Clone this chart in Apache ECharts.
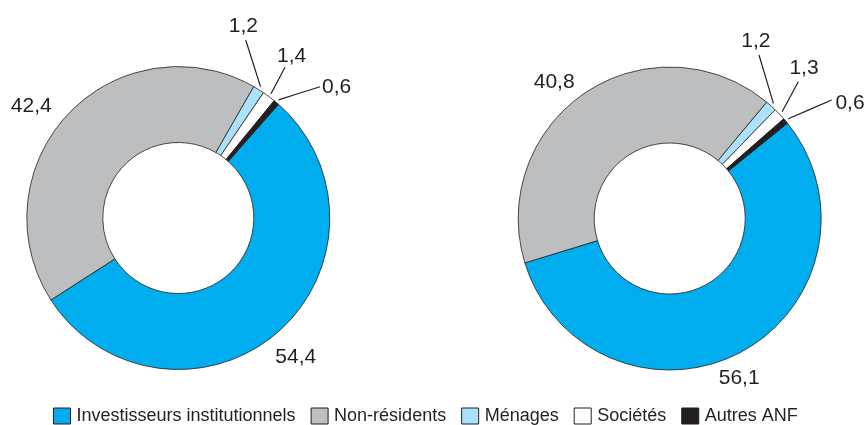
<!DOCTYPE html>
<html><head><meta charset="utf-8">
<script src="https://cdn.jsdelivr.net/npm/echarts@6/dist/echarts.min.js"></script>
<style>html,body{margin:0;padding:0;background:#fff}#chart{width:866px;height:425px}</style>
</head><body><div id="chart"></div>
<script>
// Categories and shares (%) for the two donuts
const categories = ['Investisseurs institutionnels', 'Non-résidents', 'Ménages', 'Sociétés', 'Autres ANF'];
const valuesLeft = [54.4, 42.4, 1.2, 1.4, 0.6];
const valuesRight = [56.1, 40.8, 1.2, 1.3, 0.6];
const colors = ['#00adee', '#bcbec0', '#abe1fa', '#ffffff', '#231f20'];

// Drawing parameters
const INK = '#231f20';
const FONT = '"Liberation Sans", Arial, Helvetica, sans-serif';
const R_IN = 75.5, R_OUT = 151.5;
const pies = [
  { values: valuesLeft, center: [178.3, 218], startAngle: 48.6,
    labelAt: [[117.5, 139], [-147, -112.2], [65, -192], [113.4, -162], [158.4, -130.5]],
    lineTo: [null, null, [67.4, -178], [106.7, -150.7], [141.7, -131.3]] },
  { values: valuesRight, center: [669.7, 218.5], startAngle: 39,
    labelAt: [[69.5, 159.3], [-115.5, -136], [86.1, -177.7], [134.3, -150.2], [180.3, -115]],
    lineTo: [null, null, [89.3, -163.5], [128.6, -136.8], [162, -118.5]] }
];

function midAngle(vals, i, start) {
  const total = vals.reduce((a, b) => a + b, 0);
  let before = 0;
  for (let k = 0; k < i; k++) before += vals[k];
  return (start - (before + vals[i] / 2) / total * 360) * Math.PI / 180;
}

function fmt(v) { return v.toFixed(1).replace('.', ','); }

function buildSeries(p) {
  return {
    type: 'pie',
    radius: [R_IN, R_OUT],
    center: p.center,
    startAngle: p.startAngle,
    clockwise: true,
    avoidLabelOverlap: false,
    silent: true,
    itemStyle: { borderColor: INK, borderWidth: 0.8 },
    label: {
      show: true, position: 'outside', color: INK, fontSize: 21, fontFamily: FONT,
      formatter: (prm) => fmt(prm.value)
    },
    labelLine: { show: true, lineStyle: { color: INK, width: 1.2 } },
    labelLayout: function (prm) {
      const i = prm.dataIndex;
      const [cx, cy] = p.center;
      const [lx, ly] = p.labelAt[i];
      const res = { x: cx + lx, y: cy + ly, align: 'center', verticalAlign: 'middle' };
      if (p.lineTo[i]) {
        const a = midAngle(p.values, i, p.startAngle);
        const r = R_OUT + 3.5;
        const s = [cx + r * Math.cos(a), cy - r * Math.sin(a)];
        const e = [cx + p.lineTo[i][0], cy + p.lineTo[i][1]];
        res.labelLinePoints = [s, [(s[0] + e[0]) / 2, (s[1] + e[1]) / 2], e];
      }
      return res;
    },
    data: categories.map((name, i) => ({
      name: name,
      value: p.values[i],
      labelLine: { show: p.lineTo[i] != null }
    }))
  };
}

const chart = echarts.init(document.getElementById('chart'), null, { renderer: 'canvas' });
chart.setOption({
  animation: false,
  color: colors,
  legend: {
    data: categories,
    top: 407,
    left: 53,
    padding: 0,
    icon: 'rect',
    itemWidth: 17,
    itemHeight: 16,
    itemGap: 15,
    itemStyle: { borderColor: INK, borderWidth: 1 },
    textStyle: { color: INK, fontSize: 18, fontFamily: FONT, padding: [0, 0, 0, 1] },
    selectedMode: false
  },
  series: pies.map(buildSeries)
});
</script>
</body></html>
